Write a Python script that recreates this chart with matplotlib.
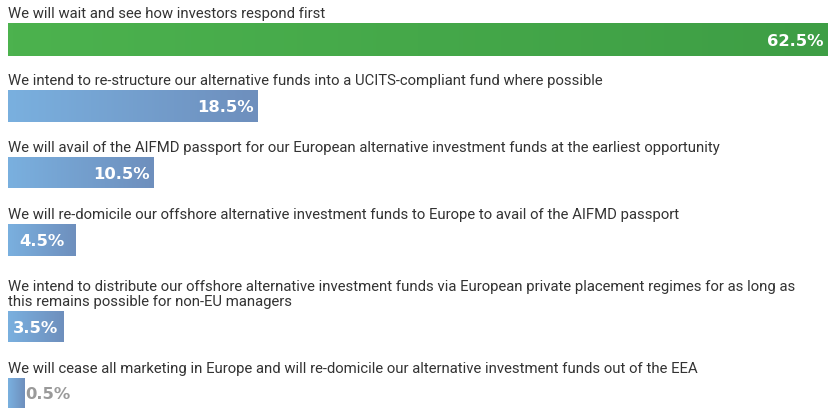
import numpy as np
import matplotlib.pyplot as plt
from matplotlib.colors import LinearSegmentedColormap

labels = [
    "We will wait and see how investors respond first",
    "We intend to re-structure our alternative funds into a UCITS-compliant fund where possible",
    "We will avail of the AIFMD passport for our European alternative investment funds at the earliest opportunity",
    "We will re-domicile our offshore alternative investment funds to Europe to avail of the AIFMD passport",
    "We intend to distribute our offshore alternative investment funds via European private placement regimes for as long as\nthis remains possible for non-EU managers",
    "We will cease all marketing in Europe and will re-domicile our alternative investment funds out of the EEA",
]
values = [62.5, 18.5, 10.5, 4.5, 3.5, 0.5]

# layout in pixels (y grows downward)
bar_top = [24, 91, 158, 225, 312, 379]
bar_h = [33, 32, 31, 32, 31, 30]
pad = 0.75  # small stub so tiny values stay visible

green = LinearSegmentedColormap.from_list("g", ["#4cb24e", "#3e9e45"])
blue = LinearSegmentedColormap.from_list("b", ["#7ab0df", "#6e8fbd"])

fig = plt.figure(figsize=(8.3, 4.1), dpi=100)
ax = fig.add_axes([0, 0, 1, 1])
ax.set_xlim(-1.37, 62.72)
ax.set_ylim(410, 0)
ax.axis("off")

grad = np.linspace(0, 1, 256).reshape(1, -1)
for i, (lab, v) in enumerate(zip(labels, values)):
    yc = bar_top[i] + bar_h[i] / 2
    ax.barh(yc, v + pad, left=-pad, height=bar_h[i], color="none")
    cmap = green if i == 0 else blue
    ax.imshow(grad, cmap=cmap, aspect="auto", interpolation="bilinear",
              extent=(-pad, v, bar_top[i] + bar_h[i], bar_top[i]), zorder=1)
    ax.text(0 - pad, bar_top[i] - 6, lab, fontsize=10.7, color="#333333",
            family="Roboto", va="baseline", ha="left", linespacing=1.1)
    txt = f"{v}%"
    if v < 1:
        ax.text(v + 0.05, yc + 1, txt, color="#9a9a9a", fontsize=11.8,
                fontweight="bold", va="center", ha="left")
    elif v < 5:
        ax.text((v - pad) / 2, yc + 1, txt, color="white", fontsize=11.8,
                fontweight="bold", va="center", ha="center")
    else:
        ax.text(v - 0.3, yc + 1, txt, color="white", fontsize=11.8,
                fontweight="bold", va="center", ha="right")

fig.savefig("out.png", dpi=100)
